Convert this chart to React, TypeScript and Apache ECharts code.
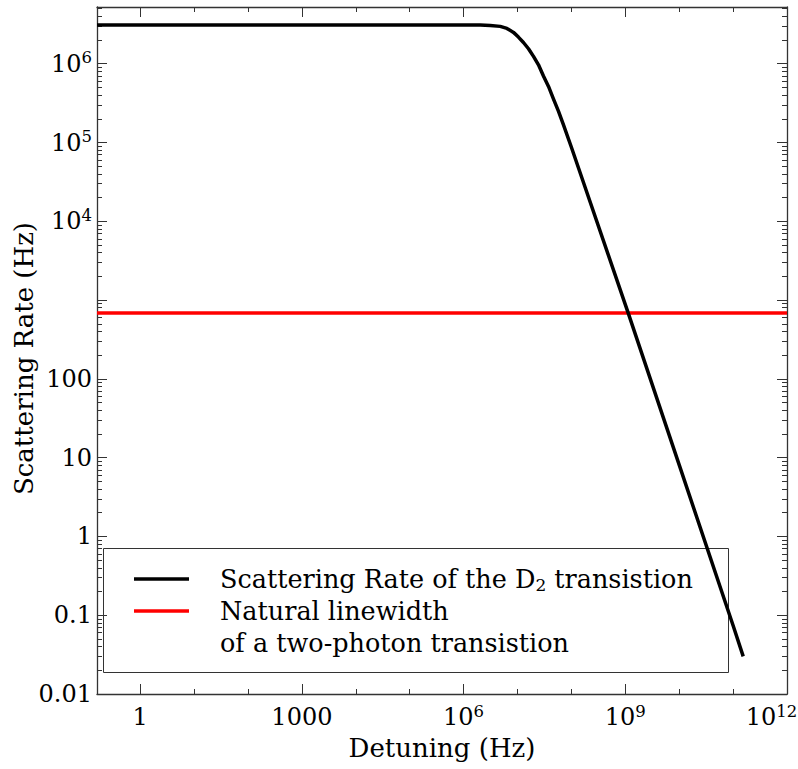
import React, { useEffect, useRef } from 'react';
import * as echarts from 'echarts';

const FONT = 'DejaVu Serif';

// Curve (Hz)
const detuningHz = [0.158, 1e3, 1e6, 2.03e6, 3.12e6, 4.78e6, 6.36e6, 8.43e6, 1.04e7, 1.29e7, 1.6e7, 1.98e7, 2.45e7, 3.03e7, 3.76e7, 4.66e7, 5.77e7, 7.13e7, 1e8, 1.13e9, 1e10, 1e11, 1.54e11];
const scatteringRateHz = [3.1e6, 3.1e6, 3.1e6, 3.1e6, 3.06e6, 2.98e6, 2.81e6, 2.5e6, 2.18e6, 1.86e6, 1.55e6, 1.24e6, 9.7e5, 7.0e5, 5.15e5, 3.56e5, 2.48e5, 1.68e5, 8.7e4, 689, 8.1, 0.074, 0.03];

// Natural linewidth of a two-photon transition (Hz), horizontal line across the axis
const linewidthDetuningHz = [0.158, 1e12];
const linewidthHz = [685, 685];

// Axis ranges (Hz)
const X_RANGE = [0.158, 1e12];
const Y_RANGE = [0.01, 5.25e6];

// Tick labels
const xMajorExp = [0, 3, 6, 9, 12];
const xTickLabels = ['1', '1000', '10^6', '10^9', '10^12'];
const xMinorExp = [1, 2, 4, 5, 7, 8, 10, 11];
const yMajorExp = [-2, -1, 0, 1, 2, 3, 4, 5, 6];
const yTickLabels = ['0.01', '0.1', '1', '10', '100', '', '10^4', '10^5', '10^6'];

const xTitle = 'Detuning (Hz)';
const yTitle = 'Scattering Rate (Hz)';
const legendBlack = ['Scattering Rate of the D', '2', ' transistion'];
const legendRed = ['Natural linewidth', 'of a two-photon transistion'];

const lg = Math.log10;

function yMinorExp(): number[] {
  const out: number[] = [];
  for (let n = -2; n <= 6; n++) {
    for (let k = 2; k <= 9; k++) {
      const v = lg(k) + n;
      if (v <= lg(Y_RANGE[1])) out.push(v);
    }
  }
  return out;
}

function richLabel(s: string, last: boolean): string {
  if (!s) return '';
  const i = s.indexOf('^');
  if (i < 0) return `{b|${s}}`;
  return `{b|${s.slice(0, i)}}{${last ? 'se' : 's'}|${s.slice(i + 1)}}`;
}

function fmt(exps: number[], labels: string[], shiftLast: boolean) {
  return (v: number) => {
    const idx = exps.findIndex((e) => Math.abs(e - v) < 1e-6);
    return idx >= 0 ? richLabel(labels[idx], shiftLast && idx === exps.length - 1) : '';
  };
}

const rich = {
  b: { fontFamily: FONT, fontSize: 24, lineHeight: 28, color: '#000' },
  s: { fontFamily: FONT, fontSize: 16.5, lineHeight: 16.5, padding: [0, 0, 12, 0], color: '#000' },
  se: { fontFamily: FONT, fontSize: 16.5, lineHeight: 16.5, padding: [0, 31, 12, 0], color: '#000' },
};

const axisColor = '#333';

function xAxis(position: 'bottom' | 'top', exps: number[], len: number, label: boolean, line: boolean, name?: string) {
  return {
    type: 'value',
    gridIndex: 0,
    position,
    min: lg(X_RANGE[0]),
    max: lg(X_RANGE[1]),
    name: name || '',
    nameLocation: 'middle',
    nameGap: 41,
    nameMoveOverlap: false,
    nameTextStyle: { fontFamily: FONT, fontSize: 26, color: '#000' },
    axisLine: { show: line, onZero: false, lineStyle: { color: axisColor, width: 1.3 } },
    axisTick: { show: true, inside: true, length: len, customValues: exps, lineStyle: { color: axisColor, width: 1 } },
    axisLabel: label
      ? { show: true, customValues: exps, margin: 9, formatter: fmt(xMajorExp, xTickLabels, true), rich, hideOverlap: false }
      : { show: false },
    splitLine: { show: false },
  };
}

function yAxis(position: 'left' | 'right', exps: number[], len: number, label: boolean, line: boolean, name?: string) {
  return {
    type: 'value',
    gridIndex: 0,
    position,
    min: lg(Y_RANGE[0]),
    max: lg(Y_RANGE[1]),
    name: name || '',
    nameLocation: 'middle',
    nameGap: 60,
    nameMoveOverlap: false,
    nameTextStyle: { fontFamily: FONT, fontSize: 26, color: '#000', padding: [0, 16, 0, 0] },
    axisLine: { show: line, onZero: false, lineStyle: { color: axisColor, width: 1.3 } },
    axisTick: { show: true, inside: true, length: len, customValues: exps, lineStyle: { color: axisColor, width: 1 } },
    axisLabel: label
      ? { show: true, customValues: yMajorExp, margin: 5, formatter: fmt(yMajorExp, yTickLabels, false), rich, hideOverlap: false }
      : { show: false },
    splitLine: { show: false },
  };
}

export default function App() {
  const ref = useRef<HTMLDivElement>(null);
  useEffect(() => {
    const chart = echarts.init(ref.current!, null, { renderer: 'svg' });
    const yMinor = yMinorExp();
    const option = {
      animation: false,
      backgroundColor: '#fff',
      grid: { left: 97, right: 11, top: 7, bottom: 75, containLabel: false, outerBoundsMode: 'none' },
      xAxis: [
        xAxis('bottom', xMajorExp, 10, true, true, xTitle),
        xAxis('bottom', xMinorExp, 5, false, false),
        xAxis('top', xMajorExp, 10, false, true),
        xAxis('top', xMinorExp, 5, false, false),
      ],
      yAxis: [
        yAxis('left', yMajorExp, 10, true, true, yTitle),
        yAxis('left', yMinor, 5, false, false),
        yAxis('right', yMajorExp, 10, false, true),
        yAxis('right', yMinor, 5, false, false),
      ],
      series: [
        {
          type: 'line',
          name: 'Natural linewidth of a two-photon transistion',
          xAxisIndex: 0,
          yAxisIndex: 0,
          data: linewidthDetuningHz.map((x, i) => [lg(x), lg(linewidthHz[i])]),
          symbol: 'none',
          lineStyle: { color: '#ff0000', width: 3.5 },
          clip: true,
        },
        {
          type: 'line',
          name: 'Scattering Rate of the D2 transistion',
          xAxisIndex: 0,
          yAxisIndex: 0,
          data: detuningHz.map((x, i) => [lg(x), lg(scatteringRateHz[i])]),
          symbol: 'none',
          smooth: false,
          lineStyle: { color: '#000', width: 3.5, join: 'round' },
          clip: true,
        },
      ],
      graphic: [
        {
          type: 'rect',
          z: -1,
          shape: { x: 103.5, y: 548.5, width: 625, height: 124 },
          style: { fill: 'none', stroke: '#333', lineWidth: 1 },
        },
        {
          type: 'line',
          shape: { x1: 134, y1: 579, x2: 189, y2: 579 },
          style: { stroke: '#000', lineWidth: 3.5 },
        },
        {
          type: 'line',
          shape: { x1: 134, y1: 611, x2: 189, y2: 611 },
          style: { stroke: '#ff0000', lineWidth: 3.5 },
        },
        {
          type: 'text',
          x: 220,
          y: 579,
          style: {
            text: `{n|${legendBlack[0]}}{sub|${legendBlack[1]}}{n|${legendBlack[2]}}`,
            verticalAlign: 'middle',
            align: 'left',
            rich: {
              n: { fontFamily: FONT, fontSize: 25.5, lineHeight: 30, fill: '#000', color: '#000' },
              sub: { fontFamily: FONT, fontSize: 17, lineHeight: 17, padding: [12, 0, 0, 0], fill: '#000', color: '#000' },
            },
          },
        },
        {
          type: 'text',
          x: 220,
          y: 611,
          style: { text: legendRed[0], fontFamily: FONT, fontSize: 25.5, fill: '#000', verticalAlign: 'middle', align: 'left' },
        },
        {
          type: 'text',
          x: 220,
          y: 643,
          style: { text: legendRed[1], fontFamily: FONT, fontSize: 25.5, fill: '#000', verticalAlign: 'middle', align: 'left' },
        },
      ],
    };
    chart.setOption(option as any);
    return () => chart.dispose();
  }, []);
  return (
    <div
      ref={ref}
      style={{ position: 'fixed', left: 0, top: 0, width: 798, height: 769, background: '#fff' }}
    />
  );
}
